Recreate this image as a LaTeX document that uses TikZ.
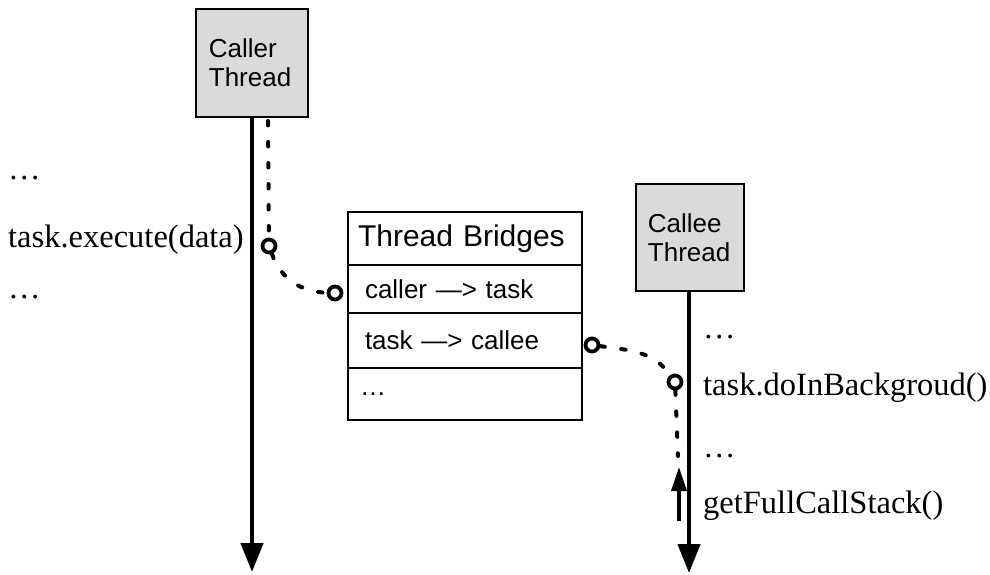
\documentclass[tikz,border=0pt]{standalone}
\usepackage{fontspec}
\setmainfont{Liberation Serif}
\setsansfont{Liberation Sans}
\usetikzlibrary{arrows.meta, positioning}
\definecolor{boxgray}{RGB}{218,218,220}

\begin{document}
\begin{tikzpicture}[x=1pt, y=-1pt,
		thread/.style={draw=black, line width=1.8pt, fill=boxgray, anchor=north west,
			inner xsep=13pt, text width=86pt, minimum height=108pt, align=left,
			font=\sffamily\fontsize{26}{29}\selectfont},
		row/.style={draw=black, line width=1.8pt, outer sep=0pt, inner xsep=17pt,
			text width=200pt, align=left, font=\sffamily\fontsize{26}{30}\selectfont},
		port/.style={circle, draw=black, line width=3.8pt, fill=white, inner sep=0pt, minimum size=13pt},
		flow/.style={line width=4pt, line cap=round, dash pattern=on 4.5pt off 16.5pt},
		life/.style={line width=4.5pt, -{Triangle[length=29pt,width=22pt]}},
		call/.style={anchor=base west, inner sep=0pt, font=\fontsize{32.5}{36}\selectfont}]
\useasboundingbox (0,0) rectangle (990,575);

% threads
\node[thread] (caller) at (195,8) {Caller\\Thread};
\node[thread, text width=84pt, inner xsep=12pt, minimum height=107pt] (callee) at (635,183) {Callee\\Thread};
\coordinate (callerEnd) at (252,572);
\coordinate (calleeEnd) at (689,573);
\draw[life] (caller.south -| callerEnd) -- (callerEnd);
\draw[life] (callee.south -| calleeEnd) -- (calleeEnd);

% bridges table
\node[row, anchor=north west, inner xsep=10pt, text width=214pt, minimum height=53pt,
	font=\sffamily\fontsize{30}{34}\selectfont] (bridges) at (348,212) {Thread Bridges};
\node[row, below=0pt of bridges, minimum height=48pt] (toTask) {caller —> task};
\node[row, below=0pt of toTask, minimum height=55pt] (toCallee) {task —> callee};
\node[row, below=0pt of toCallee, inner xsep=12pt, text width=210pt, minimum height=52pt] (more) {…};

% caller side
\node[call] (dotsA) at (8,179) {…};
\node[call] (exec) at (8,247) {task.execute(data)};
\node[call] (dotsB) at (8,298) {…};

% callee side
\node[call] (dotsC) at (703,338) {…};
\node[call] (bg) at (703,395) {task.doInBackgroud()};
\node[call] (dotsD) at (703,457) {…};
\node[call] (stack) at (703,513) {getFullCallStack()};

% flow of the task
\coordinate (flowTop) at (268,121);
\node[port] (c1) at (269,246) {};
\node[port] (c2) at (335,293) {};
\node[port] (c3) at (592,345) {};
\node[port] (c4) at (675,382) {};
\coordinate (flowEnd) at (678,456);
\draw[flow] (flowTop) -- (c1);
\draw[flow] (c1) to[out=-70, in=178] (c2);
\draw[flow] (c3) to[out=-8, in=125] (c4);
\draw[flow] (c4) -- (flowEnd);

\coordinate (stackLow) at (679,521);
\coordinate (stackTop) at (679,467);
\draw[line width=3.5pt, -{Triangle[length=24pt,width=15pt]}] (stackLow) -- (stackTop);
\end{tikzpicture}
\end{document}
